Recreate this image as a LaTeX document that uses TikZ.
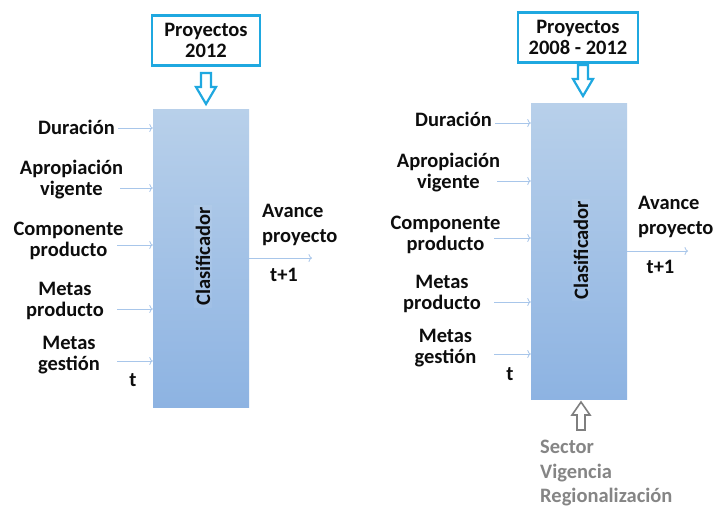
\documentclass[tikz,border=0pt]{standalone}
\usepackage{fontspec}
\setmainfont{Carlito}
\usetikzlibrary{arrows.meta}
\definecolor{cyanline}{HTML}{1FA8E0}
\definecolor{thinblue}{HTML}{A8C6EA}
\definecolor{boxtop}{HTML}{B8D0EA}
\definecolor{boxbot}{HTML}{8DB3E2}
\definecolor{grayarrow}{HTML}{7F7F7F}
\definecolor{graytext}{HTML}{858585}
\definecolor{txt}{HTML}{0D0D0D}
\begin{document}
\begin{tikzpicture}[x=1pt,y=-1pt,
  every node/.style={inner sep=0pt, text=txt},
  lbl/.style={font=\fontsize{20.5}{21}\selectfont\bfseries, align=center},
  lbll/.style={font=\fontsize{20.5}{25}\selectfont\bfseries, align=left, anchor=west},
  topbox/.style={draw=cyanline, line width=2.4pt, fill=white, minimum width=#1, minimum height=50pt,
    font=\fontsize{20.5}{21}\selectfont\bfseries, align=center},
  mainbox/.style={top color=boxtop, bottom color=boxbot, minimum width=96pt, minimum height=#1},
  clas/.style={font=\fontsize{20.5}{21}\selectfont\bfseries, rotate=90, fill=white, fill opacity=0.06, text opacity=1, inner sep=2pt},
  inarrow/.style={draw=thinblue, line width=0.8pt, -{To[length=3.5pt,width=8pt]}},
  graylbl/.style={font=\fontsize{20.5}{24.5}\selectfont\bfseries, align=left, anchor=west, text=graytext},
  hollowdown/.pic={\draw[draw=cyanline, line width=2.2pt, fill=white, line join=miter]
     (-5,0) -- (5,0) -- (5,14) -- (10,14) -- (0,31) -- (-10,14) -- (-5,14) -- cycle;},
  hollowup/.pic={\draw[draw=grayarrow, line width=1.6pt, fill=white, line join=miter]
     (0,0) -- (9,13) -- (4,13) -- (4,28) -- (-4,28) -- (-4,13) -- (-9,13) -- cycle;}
]
\useasboundingbox[fill=white] (0,0) rectangle (715,507);

% ---------------- left diagram ----------------
\node[topbox=108pt] (ltop) at (206,40.5) {Proyectos\\2012};
\pic at (206,73) {hollowdown};
\node[mainbox=298pt] (lbox) at (201,258) {};
\node[clas] (lclas) at (203,256.5) {Clasificador};

\node[lbl] (ldur) at (76.5,127) {Duración};
\node[lbl] (lapr) at (71.5,179.5) {Apropiación\\vigente};
\node[lbl] (lcom) at (68.5,240.5) {Componente\\producto};
\node[lbl] (lmp) at (65,300.5) {Metas\\producto};
\node[lbl] (lmg) at (69,355) {Metas\\gestión};
\node[lbl] (lt) at (133,380) {t};

\coordinate (ls1) at (118,128);
\coordinate (ls2) at (120,188);
\coordinate (ls3) at (117,245);
\coordinate (ls4) at (117,309);
\coordinate (ls5) at (117,361);
\foreach \c in {ls1,ls2,ls3,ls4,ls5}
  \draw[inarrow] (\c) -- (\c -| lbox.west);

\coordinate (lout) at (312,258);
\draw[inarrow] (lbox.east |- lout) -- (lout);
\node[lbll] (lav) at (262,224.5) {Avance\\proyecto};
\node[lbl] (ltt) at (284,275) {t+1};

% ---------------- right diagram ----------------
\node[topbox=120pt] (rtop) at (578,37.5) {Proyectos\\2008 - 2012};
\pic at (583,65) {hollowdown};
\node[mainbox=296pt] (rbox) at (579,251) {};
\node[clas] (rclas) at (581,250) {Clasificador};

\node[lbl] (rdur) at (453.5,119) {Duración};
\node[lbl] (rapr) at (448.5,172.5) {Apropiación\\vigente};
\node[lbl] (rcom) at (445.5,234.5) {Componente\\producto};
\node[lbl] (rmp) at (442,293.5) {Metas\\producto};
\node[lbl] (rmg) at (445.5,348) {Metas\\gestión};
\node[lbl] (rt) at (510,374) {t};

\coordinate (rs1) at (495,123);
\coordinate (rs2) at (497,181);
\coordinate (rs3) at (494,238);
\coordinate (rs4) at (494,302);
\coordinate (rs5) at (494,354);
\foreach \c in {rs1,rs2,rs3,rs4,rs5}
  \draw[inarrow] (\c) -- (\c -| rbox.west);

\coordinate (rout) at (688,251);
\draw[inarrow] (rbox.east |- rout) -- (rout);
\node[lbll] (rav) at (638,217) {Avance\\proyecto};
\node[lbl] (rtt) at (660.5,267) {t+1};

\pic at (581,402) {hollowup};
\node[graylbl] (rsec) at (540,473.5) {Sector\\Vigencia\\Regionalización};
\end{tikzpicture}
\end{document}
